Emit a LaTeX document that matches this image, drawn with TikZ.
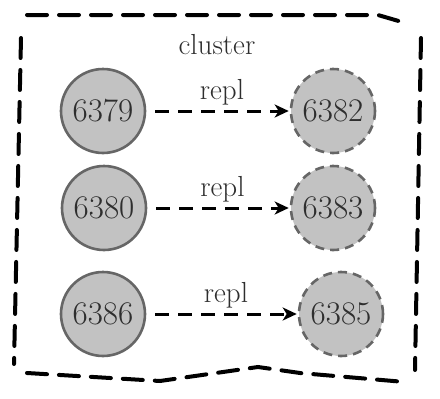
\documentclass[tikz,border=0pt]{standalone}
\usetikzlibrary{arrows.meta}
\definecolor{nodefill}{HTML}{C2C2C2}
\definecolor{nodeline}{HTML}{666666}
\definecolor{txt}{HTML}{2E2E2E}
\tikzset{
  master/.style={circle, draw=nodeline, fill=nodefill, line width=2.6pt, minimum size=84pt, inner sep=0pt, text=txt, font=\fontsize{33}{36}\selectfont},
  slave/.style={master, dash pattern=on 9pt off 6pt},
  repl/.style={draw=black, line width=3pt, dash pattern=on 14pt off 9pt, -{Stealth[length=14pt,width=13pt,inset=4pt]}, shorten >=1pt, shorten <=9pt},
  lbl/.style={text=txt, font=\fontsize{29}{32}\selectfont, inner sep=0pt},
  frame/.style={draw=black, line width=4pt, dash pattern=on 20pt off 12pt, line cap=round}
}
\begin{document}
\begin{tikzpicture}[x=1pt,y=-1pt]
\useasboundingbox (0,0) rectangle (440,399);
% frame
\draw[frame] (27,15) -- (378,15) -- (402,22);
\draw[frame] (21,38) -- (14,364);
\draw[frame] (421,38) -- (415,370);
\draw[frame] (27,373) -- (160,381) -- (258,367) -- (300,373) -- (405,382);
\node[lbl] (cl) at (217,45) {cluster};
% nodes
\node[master] (a) at (103,111) {6379};
\node[slave]  (b) at (333,111) {6382};
\node[master] (c) at (104,208) {6380};
\node[slave]  (d) at (333,208) {6383};
\node[master] (e) at (103,314) {6386};
\node[slave]  (f) at (341,314) {6385};
\draw[repl] (a) -- node[lbl, above=4pt, xshift=4pt] (l1) {repl} (b);
\draw[repl] (c) -- node[lbl, above=4pt, xshift=4pt] (l2) {repl} (d);
\draw[repl] (e) -- node[lbl, above=4pt, xshift=4pt] (l3) {repl} (f);
\end{tikzpicture}
\end{document}
